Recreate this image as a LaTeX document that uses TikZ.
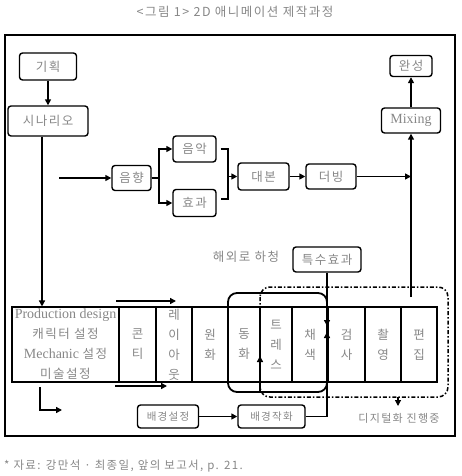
\documentclass[tikz,border=0pt]{standalone}
\usepackage{fontspec}
\setmainfont{Liberation Serif}
\newfontfamily\kr{Noto Sans CJK KR}[LetterSpace=12]
\newcommand\korp[1]{{\kr\fontsize{12.5}{20}\selectfont #1}}
\usetikzlibrary{arrows.meta}
\definecolor{txt}{RGB}{135,135,135}
\begin{document}
\begin{tikzpicture}[x=1pt,y=-1pt,
  box/.style={draw,line width=1.4pt,rounded corners=3pt,inner sep=0pt,text=txt,font=\kr\fontsize{12.5}{14}\selectfont},
  cell/.style={draw,line width=1.1pt,inner sep=0pt,text=txt,align=center,font=\kr\fontsize{12.5}{20}\selectfont},
  conn/.style={line width=1.6pt},
  arr/.style={conn,-{Triangle[length=6pt,width=6pt]}},
  lbl/.style={text=txt,inner sep=0pt,font=\kr\fontsize{12.5}{14}\selectfont},
  small/.style={text=txt,inner sep=0pt,font=\kr\fontsize{10.5}{12}\selectfont}
]
\useasboundingbox (0,0) rectangle (461,476);
\node[lbl] (title) at (235,12) {<그림 1> 2D 애니메이션 제작과정};
\draw[line width=1.8pt] (5,35) rectangle (455,436);

% top boxes
\node[box,minimum width=57pt,minimum height=27pt] (gihoek) at (48,66.5) {기획};
\node[box,minimum width=80pt,minimum height=30pt] (scen) at (48,121) {시나리오};
\node[box,minimum width=39pt,minimum height=25pt] (eumhyang) at (131.5,178) {음향};
\node[box,minimum width=43pt,minimum height=26pt] (eumak) at (194.5,149) {음악};
\node[box,minimum width=43pt,minimum height=27pt] (hyogwa) at (194.5,203) {효과};
\node[box,minimum width=51pt,minimum height=27pt] (daebon) at (263.5,176.5) {대본};
\node[box,minimum width=50pt,minimum height=25pt] (deobing) at (331,176.5) {더빙};
\node[box,minimum width=59pt,minimum height=25pt,font=\rmfamily\fontsize{14}{16}\selectfont] (mixing) at (411,120.5) {Mixing};
\node[box,minimum width=42pt,minimum height=21pt] (wanseong) at (411,66) {완성};
\node[lbl] (haeoe) at (246,257) {해외로 하청};
\node[box,minimum width=68pt,minimum height=25pt] (teuksu) at (327,259.5) {특수효과};

% table
\node[cell,minimum width=107pt,minimum height=75pt,font=\rmfamily\fontsize{14}{20}\selectfont] (prod) at (65.5,344.5)
  {Production design\\\korp{캐릭터 설정}\\Mechanic \korp{설정}\\\korp{미술설정}};
\node[cell,minimum width=37pt,minimum height=75pt] (conti) at (137.5,344.5) {콘\\티};
\node[cell,minimum width=36pt,minimum height=75pt] (layout) at (174,344.5) {레\\이\\아\\웃};
\node[cell,minimum width=36pt,minimum height=75pt] (wonhwa) at (210,344.5) {원\\화};
\node[cell,minimum width=32pt,minimum height=75pt] (donghwa) at (244,344.5) {동\\화};
\node[cell,minimum width=32pt,minimum height=75pt] (trace) at (276,344.5) {트\\레\\스};
\node[cell,minimum width=36pt,minimum height=75pt] (chaesaek) at (310,344.5) {채\\색};
\node[cell,minimum width=37pt,minimum height=75pt] (geomsa) at (346.5,344.5) {검\\사};
\node[cell,minimum width=36pt,minimum height=75pt] (chwa) at (383,344.5) {촬\\영};
\node[cell,minimum width=36pt,minimum height=75pt] (pyeon) at (419,344.5) {편\\집};

% bottom
\node[box,minimum width=61pt,minimum height=23pt,font=\kr\fontsize{10.5}{12}\selectfont] (seoljeong) at (168,416.5) {배경설정};
\node[box,minimum width=67pt,minimum height=23pt,font=\kr\fontsize{10.5}{12}\selectfont] (jakhwa) at (271.5,416.5) {배경작화};
\node[small,font=\kr\fontsize{11}{12}\selectfont] (digital) at (399,418) {디지털화 진행중};
\node[small,font=\kr\fontsize{11.5}{13}\selectfont,anchor=west] (caption) at (4,466) {* 자료: 강만석 · 최종일, 앞의 보고서, p. 21.};

% rounded groups
\draw[line width=1.8pt,rounded corners=9pt] (228,293) rectangle (327,392);
\draw[line width=1.5pt,rounded corners=10pt,dash pattern=on 4pt off 2pt on 1.5pt off 2pt] (260,287) rectangle (448,397);

% connectors
\draw[arr] (gihoek.south) -- (gihoek.south |- scen.north);
\draw[arr] ([xshift=-6pt]scen.south) -- ([xshift=-6pt]scen.south |- prod.north);
\coordinate (s1) at (59,178);
\draw[arr] (s1) -- (eumhyang.west);
\coordinate (br) at (159,178);
\draw[conn] (eumhyang.east) -- (br);
\draw[arr] (br) |- (eumak.west);
\draw[arr] (br) |- (hyogwa.west);
\coordinate (bk) at (228,176.5);
\draw[conn] ([xshift=4pt]eumak.east) -| (bk) |- ([xshift=4pt,yshift=4pt]hyogwa.east);
\draw[arr] (bk) -- (daebon.west);
\draw[arr] (daebon.east) -- (deobing.west);
\coordinate (mx) at (411,176.5);
\draw[arr] (deobing.east) -- (mx);
\coordinate (mb) at (411,297);
\draw[arr] (mb) -- (mixing.south);
\draw[arr] (mixing.north) -- (wanseong.south);

\coordinate (tk) at (327,326);
\draw[arr,line width=2.2pt] (teuksu.south) -- (tk);
\coordinate (jk) at (327,416.5);
\coordinate (tu) at (327,332);
\draw[conn] (jakhwa.east) -- (jk);
\draw[arr,line width=2.2pt] (jk) -- (tu);
\draw[arr] (seoljeong.east) -- (jakhwa.west);

\coordinate (a1) at (116,301); \coordinate (a2) at (176,301);
\draw[arr,line width=2.2pt] (a1) -- (a2);
\coordinate (b1) at (115,386); \coordinate (b2) at (167,386);
\draw[arr,line width=2pt] (b1) -- (b2);
\coordinate (l1) at (40,387); \coordinate (l2) at (62,410);
\draw[arr] (l1) |- (l2);
\coordinate (u1) at (260,392); \coordinate (u2) at (260,356);
\draw[arr,line width=2pt] (u1) -- (u2);
\coordinate (d1) at (398,397); \coordinate (d2) at (398,406);
\draw[arr,line width=1.2pt] (d1) -- (d2);
\end{tikzpicture}
\end{document}
